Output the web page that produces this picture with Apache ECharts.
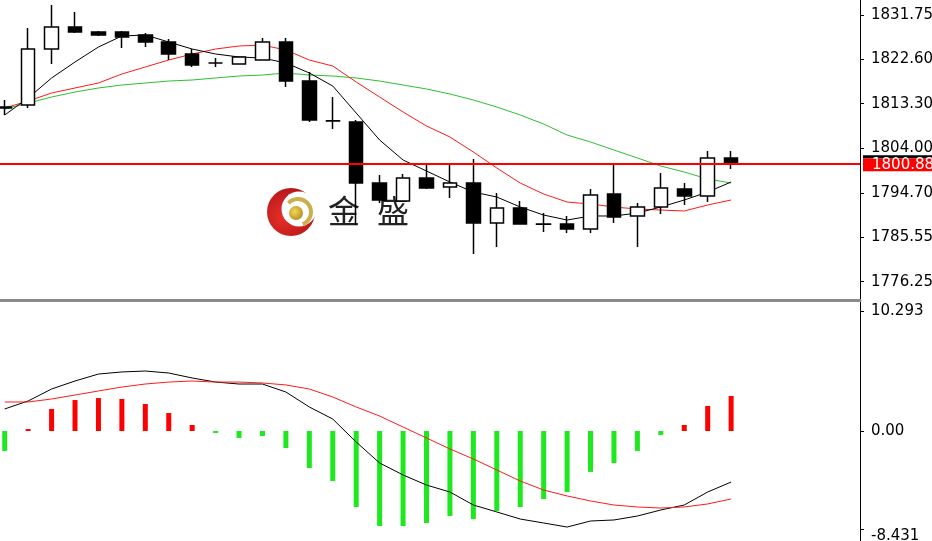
<!DOCTYPE html>
<html><head><meta charset="utf-8">
<script src="https://cdn.jsdelivr.net/npm/echarts@6/dist/echarts.min.js"></script>
<style>html,body{margin:0;padding:0;background:#fff;overflow:hidden}#c{width:932px;height:541px}</style>
</head><body><div id="c"></div>
<script>
// ---- data ----
const categories = ['B01','B02','B03','B04','B05','B06','B07','B08','B09','B10','B11','B12','B13','B14','B15','B16','B17','B18','B19','B20','B21','B22','B23','B24','B25','B26','B27','B28','B29','B30','B31','B32','B33','B34','B35','B36','B37'];
const opens  = [1812.60,1813.02,1824.67,1829.25,1828.21,1828.21,1827.59,1826.13,1823.63,1821.76,1821.55,1822.38,1826.13,1818.01,1809.75,1809.48,1796.78,1793.04,1797.83,1795.95,1796.78,1788.46,1791.58,1788.25,1788.25,1787.21,1794.49,1789.92,1791.79,1795.54,1794.08,1801.99];
const closes = [1812.39,1824.67,1829.25,1828.21,1827.59,1827.17,1826.13,1823.63,1821.34,1821.76,1823.01,1826.13,1818.01,1809.90,1809.69,1796.78,1793.25,1797.83,1795.74,1796.78,1788.46,1791.58,1788.25,1788.20,1787.21,1794.29,1789.71,1791.79,1795.74,1794.08,1801.99,1800.88];
const lows   = [1810.94,1812.39,1821.55,1828.00,1827.38,1824.88,1825.09,1822.38,1820.93,1820.93,1821.55,1822.38,1816.76,1809.48,1808.02,1788.04,1792.62,1793.04,1795.54,1793.66,1782.01,1783.46,1788.25,1786.59,1786.38,1786.38,1788.46,1783.46,1790.33,1792.21,1792.83,1799.70];
const highs  = [1814.06,1829.04,1833.83,1832.37,1828.42,1828.42,1828.00,1826.75,1824.67,1822.80,1823.01,1826.96,1826.96,1819.89,1814.68,1809.90,1798.45,1798.66,1800.53,1800.53,1801.78,1794.70,1793.04,1790.54,1789.92,1795.54,1800.95,1792.62,1798.87,1796.78,1803.44,1803.44];
const maFast = [1810.94,1814.47,1818.64,1821.97,1825.09,1827.38,1827.59,1826.13,1824.67,1823.63,1823.01,1822.80,1821.76,1819.68,1816.97,1811.35,1805.73,1801.57,1799.28,1796.99,1794.91,1793.87,1791.79,1790.12,1789.08,1789.92,1789.92,1790.54,1791.79,1793.25,1794.91,1796.99];
const maMid  = [1812.39,1813.85,1815.51,1816.56,1817.60,1819.47,1820.93,1822.38,1823.63,1824.67,1825.30,1825.50,1824.46,1822.38,1821.13,1817.80,1814.68,1811.56,1808.65,1806.36,1803.24,1799.91,1796.78,1794.49,1792.83,1792.41,1791.79,1791.37,1791.16,1790.96,1792.21,1793.25];
const maSlow = [1812.18,1813.43,1814.68,1815.72,1816.56,1817.18,1817.60,1818.01,1818.22,1818.64,1819.05,1819.26,1819.68,1819.26,1819.05,1818.64,1818.01,1817.18,1816.35,1815.31,1814.06,1812.60,1810.94,1809.06,1806.77,1805.32,1803.65,1801.99,1800.32,1799.07,1797.62,1796.78];
const macdHist = [-1.72,0.17,1.90,2.67,2.84,2.76,2.33,1.55,0.52,-0.17,-0.60,-0.43,-1.47,-3.19,-4.31,-6.55,-8.19,-8.19,-7.93,-7.33,-7.59,-6.90,-6.55,-5.86,-5.26,-3.53,-2.76,-1.72,-0.34,0.52,2.16,3.02];
const macdLine = [1.90,2.59,3.62,4.31,4.91,5.09,5.17,5.00,4.57,4.22,4.05,4.05,3.36,2.07,1.03,-0.95,-2.76,-3.79,-4.66,-5.26,-6.38,-6.98,-7.59,-7.93,-8.28,-7.76,-7.67,-7.33,-6.81,-6.38,-5.26,-4.40];
const signalLine = [2.50,2.50,2.76,3.10,3.45,3.79,4.05,4.22,4.31,4.22,4.22,4.14,3.97,3.62,2.93,2.07,1.29,0.34,-0.60,-1.55,-2.41,-3.36,-4.31,-5.09,-5.60,-6.03,-6.38,-6.55,-6.64,-6.55,-6.29,-5.86];
const currentPrice = 1800.88;
const priceTicks = [1831.75,1822.60,1813.30,1804.00,1794.70,1785.55,1776.25];
const priceAxisMin = 1772.437, priceAxisMax = 1834.872;
const macdTicks = [10.293, 0, -8.431];
const macdTickLabels = ['10.293','0.00','-8.431'];
const macdAxisMin = -9.483, macdAxisMax = 11.121;

// ---- chart ----
const candleData = opens.map((o, i) => [o, closes[i], lows[i], highs[i]]);
const FONT = 'DejaVu Sans';
const chart = echarts.init(document.getElementById('c'), null, {renderer: 'canvas'});
const labelStyle = {color: '#000', fontFamily: FONT, fontSize: 15, margin: 11};
chart.setOption({
  animation: false,
  backgroundColor: '#fff',
  grid: [
    {left: -7, right: 72, top: 0, height: 300, containLabel: false, outerBoundsMode: 'none'},
    {left: -7, right: 72, top: 302, height: 239, containLabel: false, outerBoundsMode: 'none'}
  ],
  xAxis: [
    {type: 'category', gridIndex: 0, data: categories, boundaryGap: true,
     axisLine: {show: true, onZero: false, lineStyle: {color: '#8a8a8a', width: 3}},
     axisTick: {show: false}, axisLabel: {show: false}, splitLine: {show: false}},
    {type: 'category', gridIndex: 1, data: categories, boundaryGap: true,
     axisLine: {show: false}, axisTick: {show: false}, axisLabel: {show: false}, splitLine: {show: false}}
  ],
  yAxis: [
    {type: 'value', gridIndex: 0, position: 'right', min: priceAxisMin, max: priceAxisMax,
     axisLine: {show: true, onZero: false, lineStyle: {color: '#000', width: 1}},
     axisTick: {show: true, length: 4, lineStyle: {color: '#000'}, customValues: priceTicks},
     axisLabel: Object.assign({customValues: priceTicks, formatter: v => v.toFixed(2), hideOverlap: false}, labelStyle),
     splitLine: {show: false}},
    {type: 'value', gridIndex: 1, position: 'right', min: macdAxisMin, max: macdAxisMax,
     axisLine: {show: true, onZero: false, lineStyle: {color: '#000', width: 1}},
     axisTick: {show: true, length: 4, lineStyle: {color: '#000'}, customValues: macdTicks},
     axisLabel: Object.assign({customValues: macdTicks, hideOverlap: false, formatter: v => {
        const k = macdTicks.findIndex(t => Math.abs(t - v) < 1e-6);
        if (k < 0) return '';
        return k === macdTicks.length - 1 ? '{low|' + macdTickLabels[k] + '}' : macdTickLabels[k];
     }, rich: {low: {fontFamily: FONT, fontSize: 15, color: '#000', padding: [14, 0, 0, 0]}}}, labelStyle),
     splitLine: {show: false}}
  ],
  graphic: [
    {type: 'circle', z: 1, shape: {cx: 291, cy: 212, r: 24},
     style: {fill: new echarts.graphic.RadialGradient(0.35, 0.6, 0.8, [{offset: 0, color: '#e8302a'}, {offset: 1, color: '#a80f14'}])}},
    {type: 'circle', z: 1, shape: {cx: 299, cy: 209, r: 17.5}, style: {fill: '#fff'}},
    {type: 'arc', z: 1, shape: {cx: 298, cy: 212, r: 13, startAngle: -2.4, endAngle: 1.2},
     style: {stroke: '#c9b04a', lineWidth: 4, fill: null}},
    {type: 'circle', z: 1, shape: {cx: 296, cy: 213, r: 7},
     style: {fill: new echarts.graphic.RadialGradient(0.4, 0.4, 0.7, [{offset: 0, color: '#f2d85a'}, {offset: 1, color: '#b08a1a'}])}},
    {type: 'text', z: 1, x: 344, y: 211, style: {text: '金', fill: '#222', font: '32px "Noto Sans CJK SC"', align: 'center', verticalAlign: 'middle'}},
    {type: 'text', z: 1, x: 393, y: 211, style: {text: '盛', fill: '#222', font: '32px "Noto Sans CJK SC"', align: 'center', verticalAlign: 'middle'}}
  ],
  series: [
    {type: 'line', xAxisIndex: 0, yAxisIndex: 0, data: maSlow, symbol: 'none', z: 3,
     lineStyle: {color: '#2fbf2f', width: 1}},
    {type: 'line', xAxisIndex: 0, yAxisIndex: 0, data: maMid, symbol: 'none', z: 3,
     lineStyle: {color: '#ff1a1a', width: 1}},
    {type: 'line', xAxisIndex: 0, yAxisIndex: 0, data: maFast, symbol: 'none', z: 3,
     lineStyle: {color: '#000', width: 1}},
    {type: 'candlestick', xAxisIndex: 0, yAxisIndex: 0, data: candleData, barWidth: 14, z: 4,
     itemStyle: {color: '#fff', color0: '#000', borderColor: '#000', borderColor0: '#000', borderWidth: 1.5},
     markLine: {silent: true, symbol: 'none', animation: false,
       data: [{yAxis: currentPrice}],
       lineStyle: {color: '#ff0000', width: 2, type: 'solid'},
       label: {position: 'end', distance: 3,
         formatter: () => '{bar|}\n{txt|' + currentPrice.toFixed(2) + '}',
         rich: {
           bar: {backgroundColor: '#000', height: 3, width: 80, lineHeight: 3},
           txt: {backgroundColor: '#ff0000', color: '#fff', fontFamily: FONT, fontSize: 15,
                 height: 13, lineHeight: 13, width: 71, padding: [0, 0, 0, 9]}
         }}}},
    {type: 'bar', xAxisIndex: 1, yAxisIndex: 1, data: macdHist, barWidth: 5,
     itemStyle: {color: p => p.value >= 0 ? '#ff0000' : '#1ee81e'}},
    {type: 'line', xAxisIndex: 1, yAxisIndex: 1, data: macdLine, symbol: 'none',
     lineStyle: {color: '#000', width: 1}},
    {type: 'line', xAxisIndex: 1, yAxisIndex: 1, data: signalLine, symbol: 'none',
     lineStyle: {color: '#ff1a1a', width: 1}}
  ]
});
</script></body></html>
